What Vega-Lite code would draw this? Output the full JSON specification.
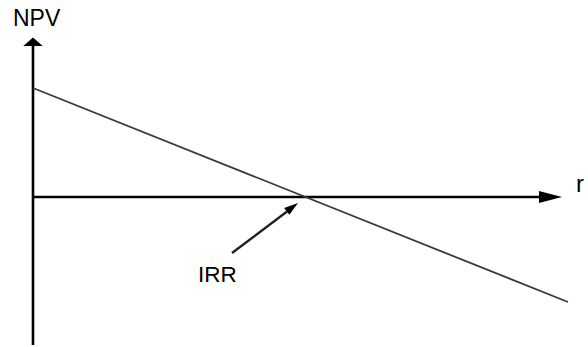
{
  "$schema": "https://vega.github.io/schema/vega-lite/v6.json",
  "width": 588,
  "height": 347,
  "autosize": {"type": "none"},
  "padding": 0,
  "background": "white",
  "config": {"view": {"stroke": null}},
  "datasets": {
    "axes": [
      {"r": 0, "npv": -148, "r2": 0, "npv2": 152},
      {"r": 0, "npv": 0, "r2": 512, "npv2": 0}
    ],
    "heads": [
      {"r": 0, "npv": 155, "dir": "up"},
      {"r": 517.5, "npv": 0, "dir": "right"}
    ],
    "curve": [
      {"r": 0, "npv": 109},
      {"r": 535, "npv": -105}
    ],
    "pointer": [
      {"r": 199, "npv": -56, "r2": 258, "npv2": -11.5}
    ],
    "pointerHead": [
      {"r": 259.4, "npv": -10.2, "angle": -37}
    ],
    "labels": [
      {"r": -20, "npv": 171, "text": "NPV", "size": 23},
      {"r": 543, "npv": 5, "text": "r", "size": 24},
      {"r": 165, "npv": -85, "text": "IRR", "size": 22.5}
    ]
  },
  "encoding": {
    "x": {"field": "r", "type": "quantitative", "scale": {"domain": [-33, 555], "nice": false, "zero": false}, "axis": null},
    "y": {"field": "npv", "type": "quantitative", "scale": {"domain": [-150, 197], "nice": false, "zero": false}, "axis": null}
  },
  "layer": [
    {
      "data": {"name": "axes"},
      "mark": {"type": "rule", "stroke": "black", "strokeWidth": 2.6},
      "encoding": {
        "x2": {"field": "r2"},
        "y2": {"field": "npv2"}
      }
    },
    {
      "data": {"name": "heads"},
      "transform": [{"filter": "datum.dir === 'up'"}],
      "mark": {"type": "point", "filled": true, "fill": "black", "opacity": 1, "shape": "M0,-0.45 L1,0.4 L-1,0.4 Z", "size": 380}
    },
    {
      "data": {"name": "heads"},
      "transform": [{"filter": "datum.dir === 'right'"}],
      "mark": {"type": "point", "filled": true, "fill": "black", "opacity": 1, "shape": "M1,0 L-1,-0.52 L-1,0.52 Z", "size": 529}
    },
    {
      "data": {"name": "curve"},
      "mark": {"type": "line", "stroke": "#3a3a3a", "strokeWidth": 1.8}
    },
    {
      "data": {"name": "pointer"},
      "mark": {"type": "rule", "stroke": "#222222", "strokeWidth": 2.4},
      "encoding": {
        "x2": {"field": "r2"},
        "y2": {"field": "npv2"}
      }
    },
    {
      "data": {"name": "pointerHead"},
      "mark": {"type": "point", "filled": true, "fill": "black", "opacity": 1, "shape": "M1,0 L-1,-0.6 L-1,0.6 Z", "size": 200},
      "encoding": {
        "angle": {"field": "angle", "type": "quantitative", "scale": null}
      }
    },
    {
      "data": {"name": "labels"},
      "mark": {"type": "text", "align": "left", "baseline": "alphabetic", "font": "Liberation Sans", "fill": "black"},
      "encoding": {
        "text": {"field": "text"},
        "size": {"field": "size", "type": "quantitative", "scale": null}
      }
    }
  ]
}
